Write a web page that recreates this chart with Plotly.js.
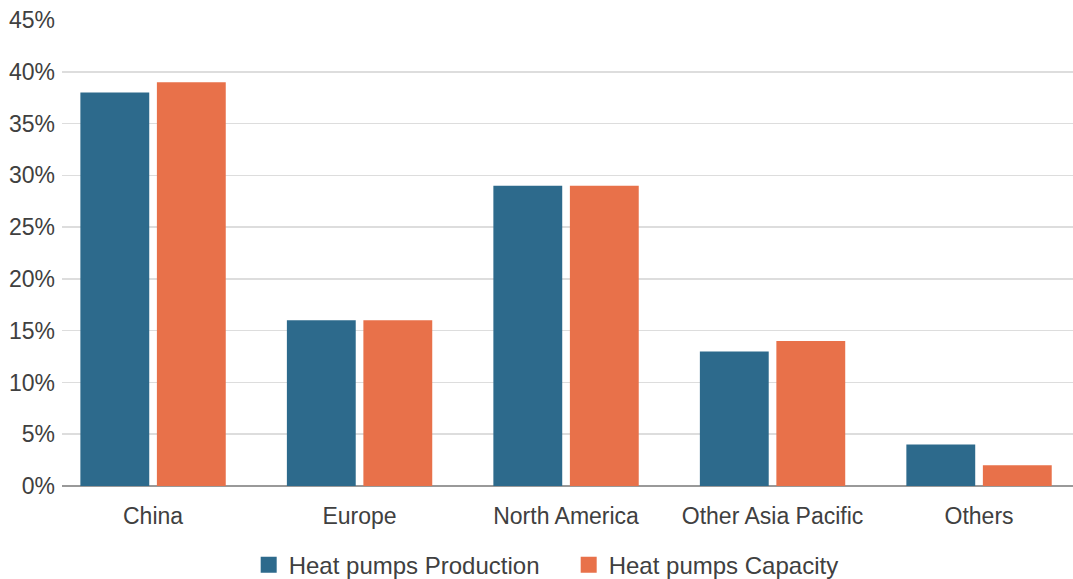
<!DOCTYPE html>
<html>
<head>
<meta charset="utf-8">
<script src="https://cdn.plot.ly/plotly-3.0.1.min.js"></script>
<style>
  html, body { margin: 0; padding: 0; background: #ffffff; }
  #chart { width: 1073px; height: 579px; }
</style>
</head>
<body>
<div id="chart"></div>
<script>
// Regional shares of heat pump production and capacity (%)
const regions = ["China", "Europe", "North America", "Other Asia Pacific", "Others"];
const production = [38, 16, 29, 13, 4];
const capacity = [39, 16, 29, 14, 2];
const seriesNames = ["Heat pumps Production", "Heat pumps Capacity"];
const seriesColors = ["#2d6a8c", "#e8714a"];
const yTicks = [0, 5, 10, 15, 20, 25, 30, 35, 40, 45];
const yTickLabels = yTicks.map(v => v + "%");

const font = { family: "Liberation Sans, Arial, sans-serif", size: 23, color: "#404040" };
const legendFont = { family: "Liberation Sans, Arial, sans-serif", size: 24, color: "#404040" };

const barTraces = [production, capacity].map((vals, i) => ({
  type: "bar",
  name: seriesNames[i],
  x: regions,
  y: vals,
  marker: { color: seriesColors[i] },
  showlegend: false,
  hoverinfo: "x+y"
}));

// Legend entries with larger square swatches (no data points of their own)
const legendTraces = seriesNames.map((name, i) => ({
  type: "scatter",
  mode: "markers",
  name: name,
  x: [null],
  y: [null],
  marker: { symbol: "square", size: 16, color: seriesColors[i] },
  showlegend: true,
  hoverinfo: "skip"
}));

const layout = {
  width: 1073,
  height: 579,
  margin: { l: 62, r: 0, t: 20, b: 93 },
  paper_bgcolor: "#ffffff",
  plot_bgcolor: "#ffffff",
  barmode: "group",
  bargap: 0.259,
  bargroupgap: 0.1,
  font: font,
  showlegend: true,
  xaxis: {
    type: "category",
    range: [-0.441, 4.455],
    showgrid: false,
    zeroline: false,
    showline: false,
    ticks: "",
    ticklen: 0,
    ticklabelstandoff: 14,
    tickfont: font
  },
  yaxis: {
    range: [0, 45],
    tickvals: yTicks,
    ticktext: yTickLabels,
    showgrid: true,
    gridcolor: "#dddddd",
    gridwidth: 1.5,
    zeroline: true,
    zerolinecolor: "#999999",
    zerolinewidth: 1.5,
    showline: false,
    ticks: "",
    ticklabelstandoff: 6,
    tickfont: font
  },
  legend: {
    orientation: "h",
    x: 0.53,
    xanchor: "center",
    xref: "container",
    y: 0.024,
    yanchor: "middle",
    yref: "container",
    font: legendFont,
    itemwidth: 30,
    entrywidth: 275,
    itemsizing: "trace",
    traceorder: "normal"
  }
};

Plotly.newPlot("chart", barTraces.concat(legendTraces), layout, { displayModeBar: false, staticPlot: true });
</script>
</body>
</html>
